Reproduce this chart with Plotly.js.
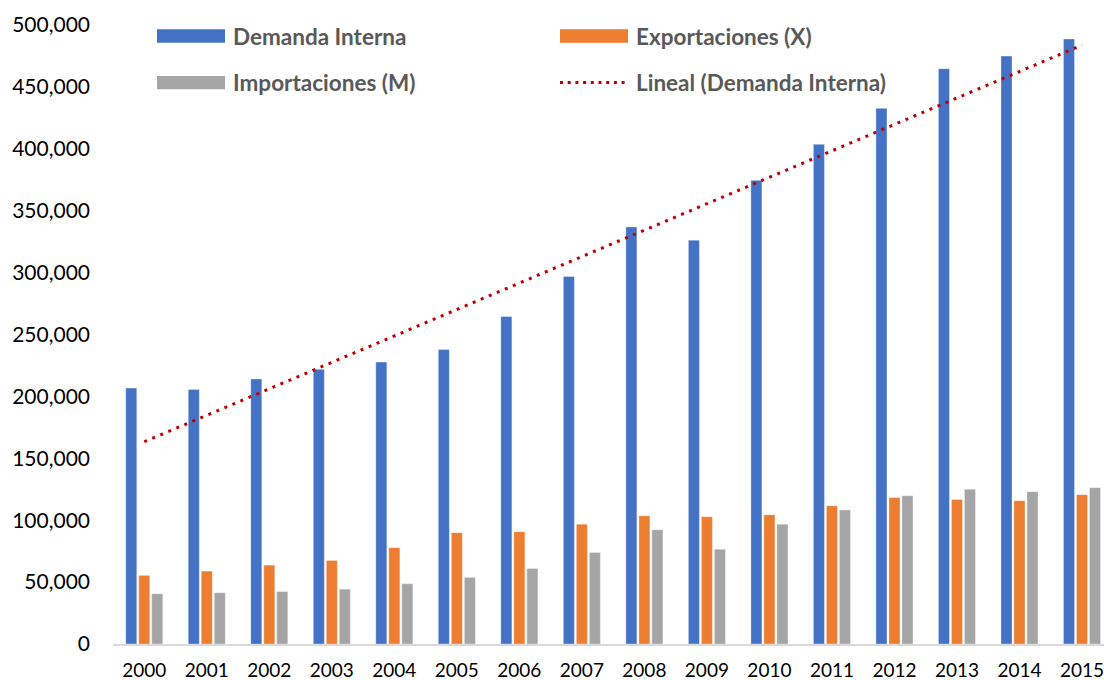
<!DOCTYPE html>
<html>
<head>
<meta charset="utf-8">
<script src="https://cdn.plot.ly/plotly-3.0.1.min.js"></script>
<style>
  html, body { margin: 0; padding: 0; background: #ffffff; }
  #chart { width: 1104px; height: 680px; }
</style>
</head>
<body>
<div id="chart"></div>
<script>
// ---- Data ----
const years = ['2000','2001','2002','2003','2004','2005','2006','2007',
               '2008','2009','2010','2011','2012','2013','2014','2015'];
const demandaInterna = [206800, 205500, 214100, 221900, 227800, 237800, 264500, 296800,
                        336900, 326200, 374500, 403600, 432700, 464700, 474900, 488700];
const exportaciones  = [55400, 58900, 63700, 67500, 77800, 89900, 90700, 96800,
                        103600, 102800, 104400, 111700, 118400, 116800, 115800, 120600];
const importaciones  = [40600, 41400, 42400, 44300, 48700, 53800, 61000, 74000,
                        92300, 76600, 96800, 108200, 119800, 124900, 123000, 126300];
const seriesNames = ['Demanda Interna', 'Exportaciones (X)', 'Importaciones (M)', 'Lineal (Demanda Interna)'];
const yTicks = [0, 50000, 100000, 150000, 200000, 250000, 300000, 350000, 400000, 450000, 500000];

// ---- Linear trend (least squares fit of Demanda Interna, like Excel's "Lineal") ----
const n = demandaInterna.length;
const idx = demandaInterna.map((_, i) => i);
const mx = idx.reduce((a, b) => a + b, 0) / n;
const my = demandaInterna.reduce((a, b) => a + b, 0) / n;
let sxy = 0, sxx = 0;
for (let i = 0; i < n; i++) { sxy += (idx[i] - mx) * (demandaInterna[i] - my); sxx += (idx[i] - mx) ** 2; }
const slope = sxy / sxx;
const intercept = my - slope * mx;
const trend = idx.map(i => intercept + slope * i);

// ---- Styling ----
const COLORS = { blue: '#4472C4', orange: '#ED7D31', gray: '#A5A5A5', red: '#C00000' };
const FONT = 'Lato, "Open Sans", "Liberation Sans", sans-serif';
const W = 1104, H = 680;
const M = { l: 113, r: 0, t: 25, b: 36 };
const PW = W - M.l - M.r, PH = H - M.t - M.b;
const px2x = px => (px - M.l) / PW;
const py2y = py => (H - M.b - py) / PH;

const traces = [
  { type: 'bar', name: seriesNames[0], x: years, y: demandaInterna,
    marker: { color: COLORS.blue, line: { color: 'rgba(255,255,255,0.35)', width: 1 } } },
  { type: 'bar', name: seriesNames[1], x: years, y: exportaciones,
    marker: { color: COLORS.orange, line: { color: 'rgba(255,255,255,0.35)', width: 1 } } },
  { type: 'bar', name: seriesNames[2], x: years, y: importaciones,
    marker: { color: COLORS.gray, line: { color: 'rgba(255,255,255,0.35)', width: 1 } } },
  { type: 'scatter', mode: 'lines', name: seriesNames[3], x: years, y: trend,
    line: { color: COLORS.red, width: 3, dash: '3px,5.7px' } }
];

// ---- Manual legend (Excel style wide swatches) ----
const legendFont = { family: FONT, size: 22.5, color: '#595959', weight: 'bold' };
const shapes = [
  { type: 'rect', xref: 'paper', yref: 'paper', x0: px2x(157), x1: px2x(225), y0: py2y(42.7), y1: py2y(29.3),
    fillcolor: COLORS.blue, line: { width: 0 } },
  { type: 'rect', xref: 'paper', yref: 'paper', x0: px2x(560), x1: px2x(628), y0: py2y(42.7), y1: py2y(29.3),
    fillcolor: COLORS.orange, line: { width: 0 } },
  { type: 'rect', xref: 'paper', yref: 'paper', x0: px2x(157), x1: px2x(225), y0: py2y(89.3), y1: py2y(76),
    fillcolor: COLORS.gray, line: { width: 0 } },
  { type: 'line', xref: 'paper', yref: 'paper', x0: px2x(560), x1: px2x(629), y0: py2y(82.5), y1: py2y(82.5),
    line: { color: COLORS.red, width: 3, dash: '3px,4.7px' } }
];
const annotations = [
  { text: '<b>' + seriesNames[0] + '</b>', x: px2x(231), y: py2y(36), xref: 'paper', yref: 'paper',
    xanchor: 'left', yanchor: 'middle', showarrow: false, font: legendFont },
  { text: '<b>' + seriesNames[1] + '</b>', x: px2x(634), y: py2y(36), xref: 'paper', yref: 'paper',
    xanchor: 'left', yanchor: 'middle', showarrow: false, font: legendFont },
  { text: '<b>' + seriesNames[2] + '</b>', x: px2x(231), y: py2y(82.7), xref: 'paper', yref: 'paper',
    xanchor: 'left', yanchor: 'middle', showarrow: false, font: legendFont },
  { text: '<b>' + seriesNames[3] + '</b>', x: px2x(634), y: py2y(82.7), xref: 'paper', yref: 'paper',
    xanchor: 'left', yanchor: 'middle', showarrow: false, font: legendFont }
];

const layout = {
  width: W, height: H,
  margin: M,
  paper_bgcolor: '#ffffff', plot_bgcolor: '#ffffff',
  showlegend: false,
  barmode: 'group',
  bargap: 0.376,
  bargroupgap: 0.15,
  font: { family: FONT, color: '#000000' },
  xaxis: {
    type: 'category',
    range: [-0.5, 15.352],
    showgrid: false, zeroline: false,
    showline: true, linecolor: '#D9D9D9', linewidth: 1.5,
    ticks: '', ticklabelstandoff: 9,
    tickfont: { family: FONT, size: 19, color: '#000000' },
    fixedrange: true
  },
  yaxis: {
    range: [0, 500000],
    tickvals: yTicks,
    tickformat: ',',
    showgrid: false, zeroline: false, showline: false,
    ticks: '', ticklabelstandoff: 22,
    tickfont: { family: FONT, size: 21, color: '#000000' },
    fixedrange: true
  },
  shapes: shapes,
  annotations: annotations
};

Plotly.newPlot('chart', traces, layout, { displayModeBar: false, staticPlot: true });
</script>
</body>
</html>
